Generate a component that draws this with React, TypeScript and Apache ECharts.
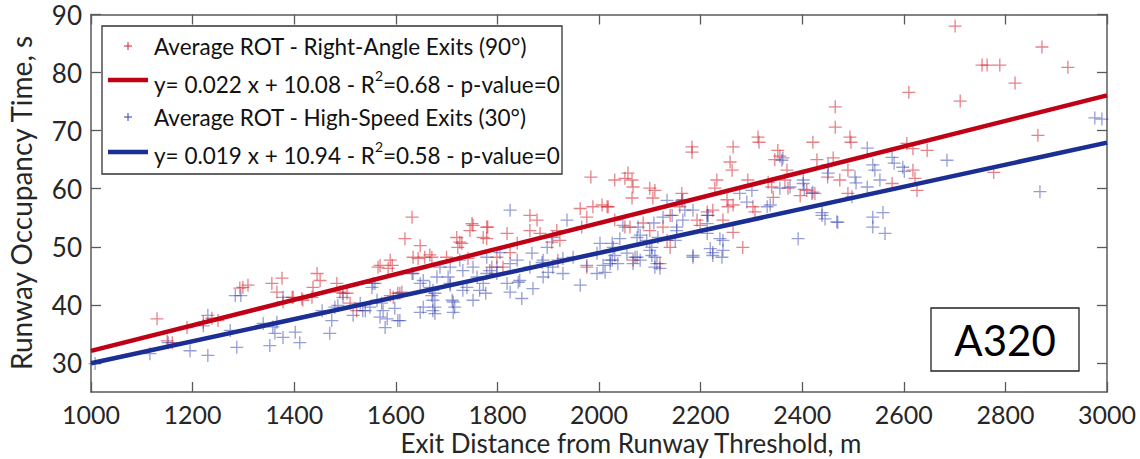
import React, { useEffect, useRef } from "react";
import * as echarts from "echarts";

// ---- Data ----
const xTicks = [1000, 1200, 1400, 1600, 1800, 2000, 2200, 2400, 2600, 2800, 3000];
const yTicks = [30, 40, 50, 60, 70, 80, 90];

const redLabel = "Average ROT - Right-Angle Exits (90°)";
const blueLabel = "Average ROT - High-Speed Exits (30°)";
const redFitLabelA = "y= 0.022 x + 10.08 - R";
const redFitLabelB = "=0.68 - p-value=0";
const blueFitLabelA = "y= 0.019 x + 10.94 - R";
const blueFitLabelB = "=0.58 - p-value=0";
const boxLabel = "A320";
const xTitle = "Exit Distance from Runway Threshold, m";
const yTitle = "Runway Occupancy Time, s";

// regression line end points (y = 0.022x + 10.08 and y = 0.019x + 10.94)
const redFit: [number, number][] = [[1000, 32.08], [3000, 76.08]];
const blueFit: [number, number][] = [[1000, 29.94], [3000, 67.94]];

const redPoints: [number, number][] = [
  [1130, 37.6], [1150, 33.8], [1160, 33.5], [1189, 36.1], [1221, 37.0], [1238, 37.7], [1250, 37.3],
  [1293, 42.9], [1309, 43.4], [1299, 43.0], [1356, 43.7], [1376, 44.6], [1366, 42.2], [1378, 40.5],
  [1398, 41.3], [1415, 41.1], [1396, 41.3], [1417, 40.8], [1445, 45.4], [1451, 44.2], [1437, 43.0],
  [1435, 41.3], [1484, 43.7], [1490, 42.2], [1504, 42.0], [1496, 42.0], [1510, 40.3], [1523, 39.0],
  [1569, 46.8], [1585, 46.3], [1593, 46.8], [1595, 41.3], [1589, 41.6], [1565, 46.5], [1589, 47.7],
  [1604, 42.0], [1612, 42.2], [1632, 55.1], [1618, 51.4], [1648, 50.2], [1634, 48.2], [1644, 48.0],
  [1657, 48.2], [1671, 48.2], [1700, 48.2], [1726, 50.8], [1722, 49.9], [1750, 54.0], [1746, 52.8],
  [1779, 53.4], [1779, 51.4], [1799, 48.2], [1667, 48.6], [1742, 48.0], [1789, 46.5], [1825, 49.0],
  [1811, 46.5], [1919, 47.7], [1976, 46.5], [1752, 53.7], [1781, 53.4], [1720, 51.6], [1730, 50.6],
  [1772, 51.6], [1819, 52.3], [1839, 50.6], [1864, 52.8], [1884, 52.3], [1917, 52.8], [1923, 51.1],
  [1907, 50.8], [1864, 55.4], [1878, 54.6], [1963, 56.6], [1988, 56.9], [2006, 57.2], [2018, 56.9],
  [1976, 55.1], [2031, 54.6], [2061, 53.4], [2100, 52.8], [2126, 53.4], [2140, 55.4], [2165, 58.1],
  [2193, 54.6], [2224, 56.3], [2244, 54.6], [2283, 49.9], [2264, 57.2], [2343, 58.5], [2140, 49.9],
  [2120, 47.1], [2067, 47.7], [2057, 62.7], [2065, 61.5], [2031, 61.5], [2051, 61.8], [2067, 60.3],
  [2065, 58.4], [2100, 60.1], [2110, 59.7], [2106, 58.4], [2016, 56.9], [2163, 59.2], [2159, 56.9],
  [2232, 61.5], [2228, 60.1], [2293, 61.5], [2252, 58.1], [2254, 56.9], [2303, 56.9], [2307, 56.0],
  [2333, 61.1], [2366, 61.5], [2409, 59.7], [2425, 59.2], [2372, 60.1], [2474, 61.5], [2199, 53.7],
  [2264, 52.5], [2051, 53.4], [2134, 51.1], [2087, 54.1], [2213, 56.0], [2183, 67.2], [2313, 68.9],
  [2264, 67.2], [2352, 66.6], [2421, 68.0], [2258, 64.6], [2262, 63.2], [2346, 65.0], [2429, 65.0],
  [2461, 65.3], [2465, 74.1], [2465, 70.6], [2496, 68.0], [2494, 68.9], [2356, 65.6], [2610, 76.6],
  [2701, 88.0], [2872, 84.4], [2754, 81.3], [2764, 81.3], [2789, 81.3], [2923, 80.9], [2819, 78.2],
  [2711, 75.1], [2864, 69.2], [2618, 66.9], [2646, 66.6], [2622, 61.8], [2626, 59.7], [2577, 60.9],
  [2618, 63.2], [2490, 63.2], [2490, 59.2], [2370, 63.2], [2419, 59.2], [2396, 58.8], [2340, 60.3],
  [2777, 62.8], [2606, 67.8], [2315, 68.0], [2183, 66.3], [1984, 62.0], [2450, 62.0]
];

const bluePoints: [number, number][] = [
  [1008, 29.9], [1116, 31.6], [1152, 33.5], [1195, 32.1], [1230, 31.3], [1221, 36.4], [1230, 38.2],
  [1274, 35.6], [1287, 32.7], [1284, 41.6], [1295, 41.6], [1339, 36.8], [1352, 33.0], [1362, 35.1],
  [1358, 36.2], [1366, 37.0], [1378, 34.4], [1378, 41.3], [1402, 35.3], [1411, 33.5], [1455, 39.0],
  [1470, 35.1], [1474, 37.3], [1480, 39.6], [1496, 41.3], [1516, 38.2], [1530, 40.3], [1540, 39.0],
  [1549, 39.6], [1559, 43.7], [1563, 40.8], [1572, 40.3], [1583, 37.6], [1579, 36.1], [1598, 39.4],
  [1604, 37.3], [1648, 38.7], [1673, 39.0], [1671, 41.6], [1654, 44.2], [1632, 45.4], [1555, 43.7],
  [1575, 39.0], [1486, 39.9], [1535, 39.0], [1569, 37.9], [1608, 37.3], [1553, 43.0], [1608, 42.0],
  [1634, 45.4], [1648, 43.7], [1673, 42.5], [1654, 39.6], [1677, 38.5], [1703, 44.8], [1707, 46.5],
  [1711, 40.8], [1732, 45.9], [1740, 43.0], [1760, 44.8], [1772, 43.7], [1785, 45.9], [1716, 39.6],
  [1777, 42.0], [1677, 42.0], [1677, 39.6], [1713, 38.7], [1707, 43.4], [1732, 42.5], [1752, 40.8],
  [1765, 42.5], [1799, 45.4], [1819, 43.7], [1825, 42.2], [1841, 43.9], [1848, 41.1], [1870, 42.8],
  [1825, 47.1], [1888, 47.3], [1900, 45.6], [1909, 46.5], [1963, 43.4], [1929, 48.0], [1976, 46.8],
  [1996, 45.4], [2008, 46.8], [2022, 47.7], [2037, 47.1], [2031, 48.5], [2071, 48.2], [2081, 47.7],
  [2114, 47.1], [2104, 48.5], [2120, 46.3], [2185, 48.5], [2224, 48.5], [2242, 48.2], [1681, 44.8],
  [1707, 43.7], [1752, 46.5], [1779, 45.4], [1799, 46.5], [1839, 47.7], [1844, 44.2], [1864, 46.5],
  [1890, 47.7], [1890, 44.8], [1929, 45.4], [1949, 48.2], [1898, 49.9], [1868, 48.9], [1805, 49.0],
  [1779, 48.2], [1726, 47.7], [1687, 46.5], [1667, 43.0], [1673, 40.8], [1713, 40.5], [1825, 56.3],
  [1909, 51.6], [1937, 54.6], [1966, 53.4], [1996, 48.9], [2026, 50.6], [2022, 47.1], [2055, 48.9],
  [2075, 51.6], [2094, 51.1], [2100, 49.4], [2150, 51.1], [2153, 52.8], [2165, 54.6], [2185, 56.3],
  [2213, 55.4], [2213, 54.0], [2238, 51.4], [2244, 49.4], [2185, 48.2], [2224, 49.0], [2360, 64.9],
  [2402, 61.5], [2421, 59.4], [2451, 64.1], [2331, 56.9], [2301, 59.7], [2277, 59.2], [2291, 57.7],
  [2356, 60.1], [2376, 60.3], [2439, 55.4], [2468, 54.3], [2392, 51.4], [2215, 55.4], [2213, 52.3],
  [2219, 49.7], [2244, 51.1], [2163, 58.0], [2169, 56.3], [2144, 55.4], [2153, 53.4], [2126, 55.1],
  [2108, 54.1], [2077, 53.4], [2081, 52.0], [2116, 51.6], [2104, 49.9], [2110, 48.2], [2110, 46.5],
  [2075, 48.2], [2067, 47.1], [2041, 51.4], [2028, 49.9], [2026, 47.7], [2012, 45.6], [2002, 50.6],
  [2047, 53.7], [2134, 58.0], [2976, 72.2], [2990, 72.0], [2868, 59.5], [2685, 64.9], [2528, 67.0],
  [2539, 64.1], [2577, 65.4], [2598, 63.7], [2362, 65.3], [2504, 62.0], [2528, 60.3], [2553, 61.5],
  [2498, 58.6], [2402, 60.9], [2439, 55.9], [2445, 54.8], [2470, 54.2], [2539, 55.1], [2559, 55.9],
  [2539, 53.4], [2563, 52.3], [2337, 57.2], [2581, 64.4], [2601, 63.0], [2543, 63.2], [2451, 62.7],
  [2506, 61.0], [2404, 59.9]
];

const FONT = "Lato";
const PLUS = "path://M5,0L5,10M0,5L10,5";
const RED_MARK = "rgba(214,36,48,0.72)";
const BLUE_MARK = "rgba(42,58,172,0.62)";
const RED_LINE = "#c00014";
const BLUE_LINE = "#1a2e94";
const AXIS = "#5a5a5a";
const TEXT = "#262626";

export default function App() {
  const ref = useRef<HTMLDivElement>(null);
  useEffect(() => {
    if (!ref.current) return;
    const chart = echarts.init(ref.current, undefined, { renderer: "svg" });

    const baseX = {
      type: "value",
      min: xTicks[0],
      max: xTicks[xTicks.length - 1],
      interval: 200,
      axisLine: { show: true, lineStyle: { color: AXIS, width: 1.5 } },
      axisTick: { show: true, inside: true, length: 10, lineStyle: { color: AXIS, width: 1.3 } },
      splitLine: { show: false },
    };
    const baseY = {
      type: "value",
      min: 25,
      max: 90,
      interval: 5,
      axisLine: { show: true, lineStyle: { color: AXIS, width: 1.5 } },
      axisTick: {
        show: true,
        inside: true,
        length: 10,
        customValues: yTicks,
        lineStyle: { color: AXIS, width: 1.3 },
      },
      splitLine: { show: false },
    };

    const legendText = (a: string, b: string, x: number, y: number) => ({
      type: "text",
      x,
      y,
      z: 11,
      style: {
        text: a + "{sup|2}" + b,
        fontFamily: FONT,
        fontSize: 22.5,
        fill: "#111",
        verticalAlign: "middle",
        rich: {
          sup: { fontSize: 14, fontFamily: FONT, fill: "#111", verticalAlign: "top", lineHeight: 32 },
        },
      },
    });
    const plusLines = (cx: number, cy: number, color: string) => [
      {
        type: "line",
        z: 12,
        shape: { x1: cx - 4, y1: cy, x2: cx + 4, y2: cy },
        style: { stroke: color, lineWidth: 1 },
      },
      {
        type: "line",
        z: 12,
        shape: { x1: cx, y1: cy - 4, x2: cx, y2: cy + 4 },
        style: { stroke: color, lineWidth: 1 },
      },
    ];

    chart.setOption({
      animation: false,
      textStyle: { fontFamily: FONT },
      grid: { left: 91, right: 33, top: 14.5, bottom: 67, containLabel: false },
      xAxis: [
        {
          ...baseX,
          position: "bottom",
          axisLabel: {
            show: true,
            fontSize: 25,
            lineHeight: 24,
            color: TEXT,
            margin: 10,
            fontFamily: FONT,
            formatter: (v: number) => String(v),
          },
        },
        { ...baseX, position: "top", axisLabel: { show: false } },
      ],
      yAxis: [
        {
          ...baseY,
          position: "left",
          axisLabel: {
            show: true,
            fontSize: 26,
            color: TEXT,
            margin: 9,
            fontFamily: FONT,
            customValues: yTicks,
            formatter: (v: number) => (v % 10 === 0 ? String(v) : ""),
          },
        },
        { ...baseY, position: "right", axisLabel: { show: false } },
      ],
      series: [
        {
          type: "scatter",
          name: redLabel,
          data: redPoints,
          symbol: PLUS,
          symbolSize: 13,
          itemStyle: { color: "rgba(0,0,0,0)", borderColor: RED_MARK, borderWidth: 1.3 },
          z: 2,
          silent: true,
        },
        {
          type: "scatter",
          name: blueLabel,
          data: bluePoints,
          symbol: PLUS,
          symbolSize: 13,
          itemStyle: { color: "rgba(0,0,0,0)", borderColor: BLUE_MARK, borderWidth: 1.3 },
          z: 2,
          silent: true,
        },
        {
          type: "line",
          data: redFit,
          showSymbol: false,
          lineStyle: { color: RED_LINE, width: 4.5 },
          z: 3,
          silent: true,
        },
        {
          type: "line",
          data: blueFit,
          showSymbol: false,
          lineStyle: { color: BLUE_LINE, width: 4.5 },
          z: 3,
          silent: true,
        },
      ],
      graphic: [
        // legend box
        {
          type: "rect",
          shape: { x: 102, y: 26, width: 460, height: 148 },
          style: { fill: "#fff", stroke: "#333", lineWidth: 1.3 },
          z: 10,
        },
        ...plusLines(128, 46, "#d02030"),
        {
          type: "line",
          shape: { x1: 108, y1: 80, x2: 148, y2: 80 },
          style: { stroke: RED_LINE, lineWidth: 4.5 },
          z: 11,
        },
        ...plusLines(128, 117, "#3040b0"),
        {
          type: "line",
          shape: { x1: 108, y1: 152, x2: 148, y2: 152 },
          style: { stroke: BLUE_LINE, lineWidth: 4.5 },
          z: 11,
        },
        {
          type: "text",
          x: 154,
          y: 46,
          z: 11,
          style: { text: redLabel, fontFamily: FONT, fontSize: 22.5, fill: "#111", verticalAlign: "middle" },
        },
        legendText(redFitLabelA, redFitLabelB, 154, 84),
        {
          type: "text",
          x: 154,
          y: 117,
          z: 11,
          style: { text: blueLabel, fontFamily: FONT, fontSize: 22.5, fill: "#111", verticalAlign: "middle" },
        },
        legendText(blueFitLabelA, blueFitLabelB, 154, 155),
        // A320 box
        {
          type: "rect",
          shape: { x: 931, y: 308, width: 148, height: 63 },
          style: { fill: "#fff", stroke: "#222", lineWidth: 1.3 },
          z: 10,
        },
        {
          type: "text",
          x: 1005,
          y: 340,
          z: 11,
          style: {
            text: boxLabel,
            fontFamily: FONT,
            fontSize: 42,
            fill: "#000",
            align: "center",
            verticalAlign: "middle",
          },
        },
        // axis titles
        {
          type: "text",
          x: 631,
          y: 443,
          style: {
            text: xTitle,
            fontFamily: FONT,
            fontSize: 26,
            lineHeight: 26,
            fill: TEXT,
            align: "center",
            verticalAlign: "middle",
          },
        },
        {
          type: "text",
          x: 21,
          y: 203,
          rotation: Math.PI / 2,
          style: { text: yTitle, fontFamily: FONT, fontSize: 28, fill: TEXT, align: "center", verticalAlign: "middle" },
        },
      ],
    });
    return () => chart.dispose();
  }, []);
  return (
    <div
      ref={ref}
      style={{ position: "fixed", left: 0, top: 0, width: 1140, height: 459, background: "#fff" }}
    />
  );
}
